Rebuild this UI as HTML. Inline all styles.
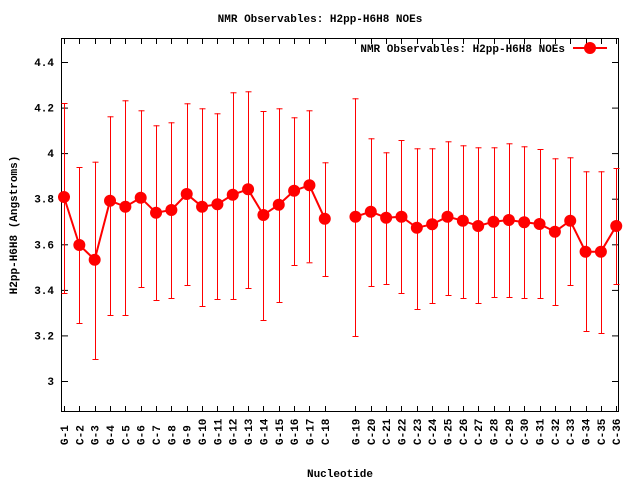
<!DOCTYPE html>
<html><head><meta charset="utf-8"><style>
html,body{margin:0;padding:0;background:#fff;}
svg text{font-family:"Liberation Mono",monospace;font-weight:bold;font-size:11px;fill:#000;}
</style></head><body>
<svg width="640" height="480" xmlns="http://www.w3.org/2000/svg">
<rect x="0" y="0" width="640" height="480" fill="#fff"/>
<text x="320" y="22" text-anchor="middle">NMR Observables: H2pp-H6H8 NOEs</text>
<g id="frame" stroke="#000" stroke-width="1" fill="none">
<rect x="61.5" y="38.5" width="557" height="373"/>
</g>
<g id="yt" stroke="#000" stroke-width="1"></g>
<g id="xt" stroke="#000" stroke-width="1"></g>
<g id="ylab" text-anchor="end"></g>
<g id="xlab"></g>
<text transform="translate(17,225) rotate(-90)" text-anchor="middle">H2pp-H6H8 (Angstroms)</text>
<text x="340" y="477" text-anchor="middle">Nucleotide</text>
<text x="565" y="52" text-anchor="end">NMR Observables: H2pp-H6H8 NOEs</text>
<line x1="573" y1="48" x2="607" y2="48" stroke="#f00" stroke-width="2"/>
<circle cx="590" cy="48" r="6" fill="#f00"/>
<g id="err" stroke="#f00" stroke-width="1"></g>
<g id="ln" stroke="#f00" stroke-width="2" fill="none"></g>
<g id="mk" fill="#f00"></g>
</svg>
<script>
var ns="http://www.w3.org/2000/svg";
function el(p,t,a,txt){var e=document.createElementNS(ns,t);for(var k in a)e.setAttribute(k,a[k]);if(txt!==undefined)e.textContent=txt;document.getElementById(p).appendChild(e);}
var yl=[["4.4",62],["4.2",107.6],["4",153.1],["3.8",198.7],["3.6",244.3],["3.4",289.9],["3.2",335.4],["3",381]];
yl.forEach(function(v){el("yt","line",{x1:62,y1:v[1]+.5,x2:68,y2:v[1]+.5});el("yt","line",{x1:612,y1:v[1]+.5,x2:618,y2:v[1]+.5});el("ylab","text",{x:54,y:v[1]+4},v[0]);});
var names=["G-1","C-2","G-3","G-4","C-5","G-6","C-7","G-8","G-9","G-10","G-11","G-12","G-13","G-14","G-15","G-16","G-17","C-18",null,"G-19","C-20","C-21","G-22","C-23","C-24","G-25","C-26","C-27","G-28","C-29","C-30","G-31","C-32","C-33","G-34","C-35","C-36"];
var d=[[197,103,293],[245,167,323],[259.7,161.7,359],[200.7,116.3,315],[206.7,100.3,315],[197.7,110.3,287],[212.7,125.3,300],[210,122.3,298],[194,103.3,285],[206.7,108.3,306],[204.3,113.3,299],[194.7,92.3,299],[189.3,91.3,288],[215,111,320],[204.7,108.3,302],[190.7,117.3,265],[185.3,110.3,262.3],[218.7,162.3,276],null,
[216.7,98.3,336],[211.7,138.3,286],[217.7,152.3,284],[216.7,140,293],[227.7,148.3,309],[224.3,148.3,303],[216.7,141.3,295],[220.7,145.3,298],[226,147.3,303],[221.7,147.3,297],[220,143.3,297],[222.3,146.3,298],[224,149,298],[231.7,158.3,305],[220.7,157.3,285],[251.7,171.3,331],[251.7,171.3,333],[226,168,284]];
var p1=[],p2=[];
for(var i=0;i<37;i++){var x=64+i*15.34;var xp=Math.round(x)+.5;
 if(!names[i])continue;
 el("xt","line",{x1:xp,y1:406,x2:xp,y2:412});el("xt","line",{x1:xp,y1:38,x2:xp,y2:44});
 el("xlab","text",{transform:"translate("+(x+4)+",445) rotate(-90)"},names[i]);
 var v=d[i];
 el("err","line",{x1:xp,y1:v[1],x2:xp,y2:v[2]});
 el("err","line",{x1:xp-3,y1:v[1]+.5,x2:xp+3,y2:v[1]+.5});
 el("err","line",{x1:xp-3,y1:v[2]+.5,x2:xp+3,y2:v[2]+.5});
 (i<18?p1:p2).push(x+","+v[0]);
 el("mk","circle",{cx:x,cy:v[0],r:6});
}
el("ln","polyline",{points:p1.join(" ")});el("ln","polyline",{points:p2.join(" ")});
</script>
</body></html>
